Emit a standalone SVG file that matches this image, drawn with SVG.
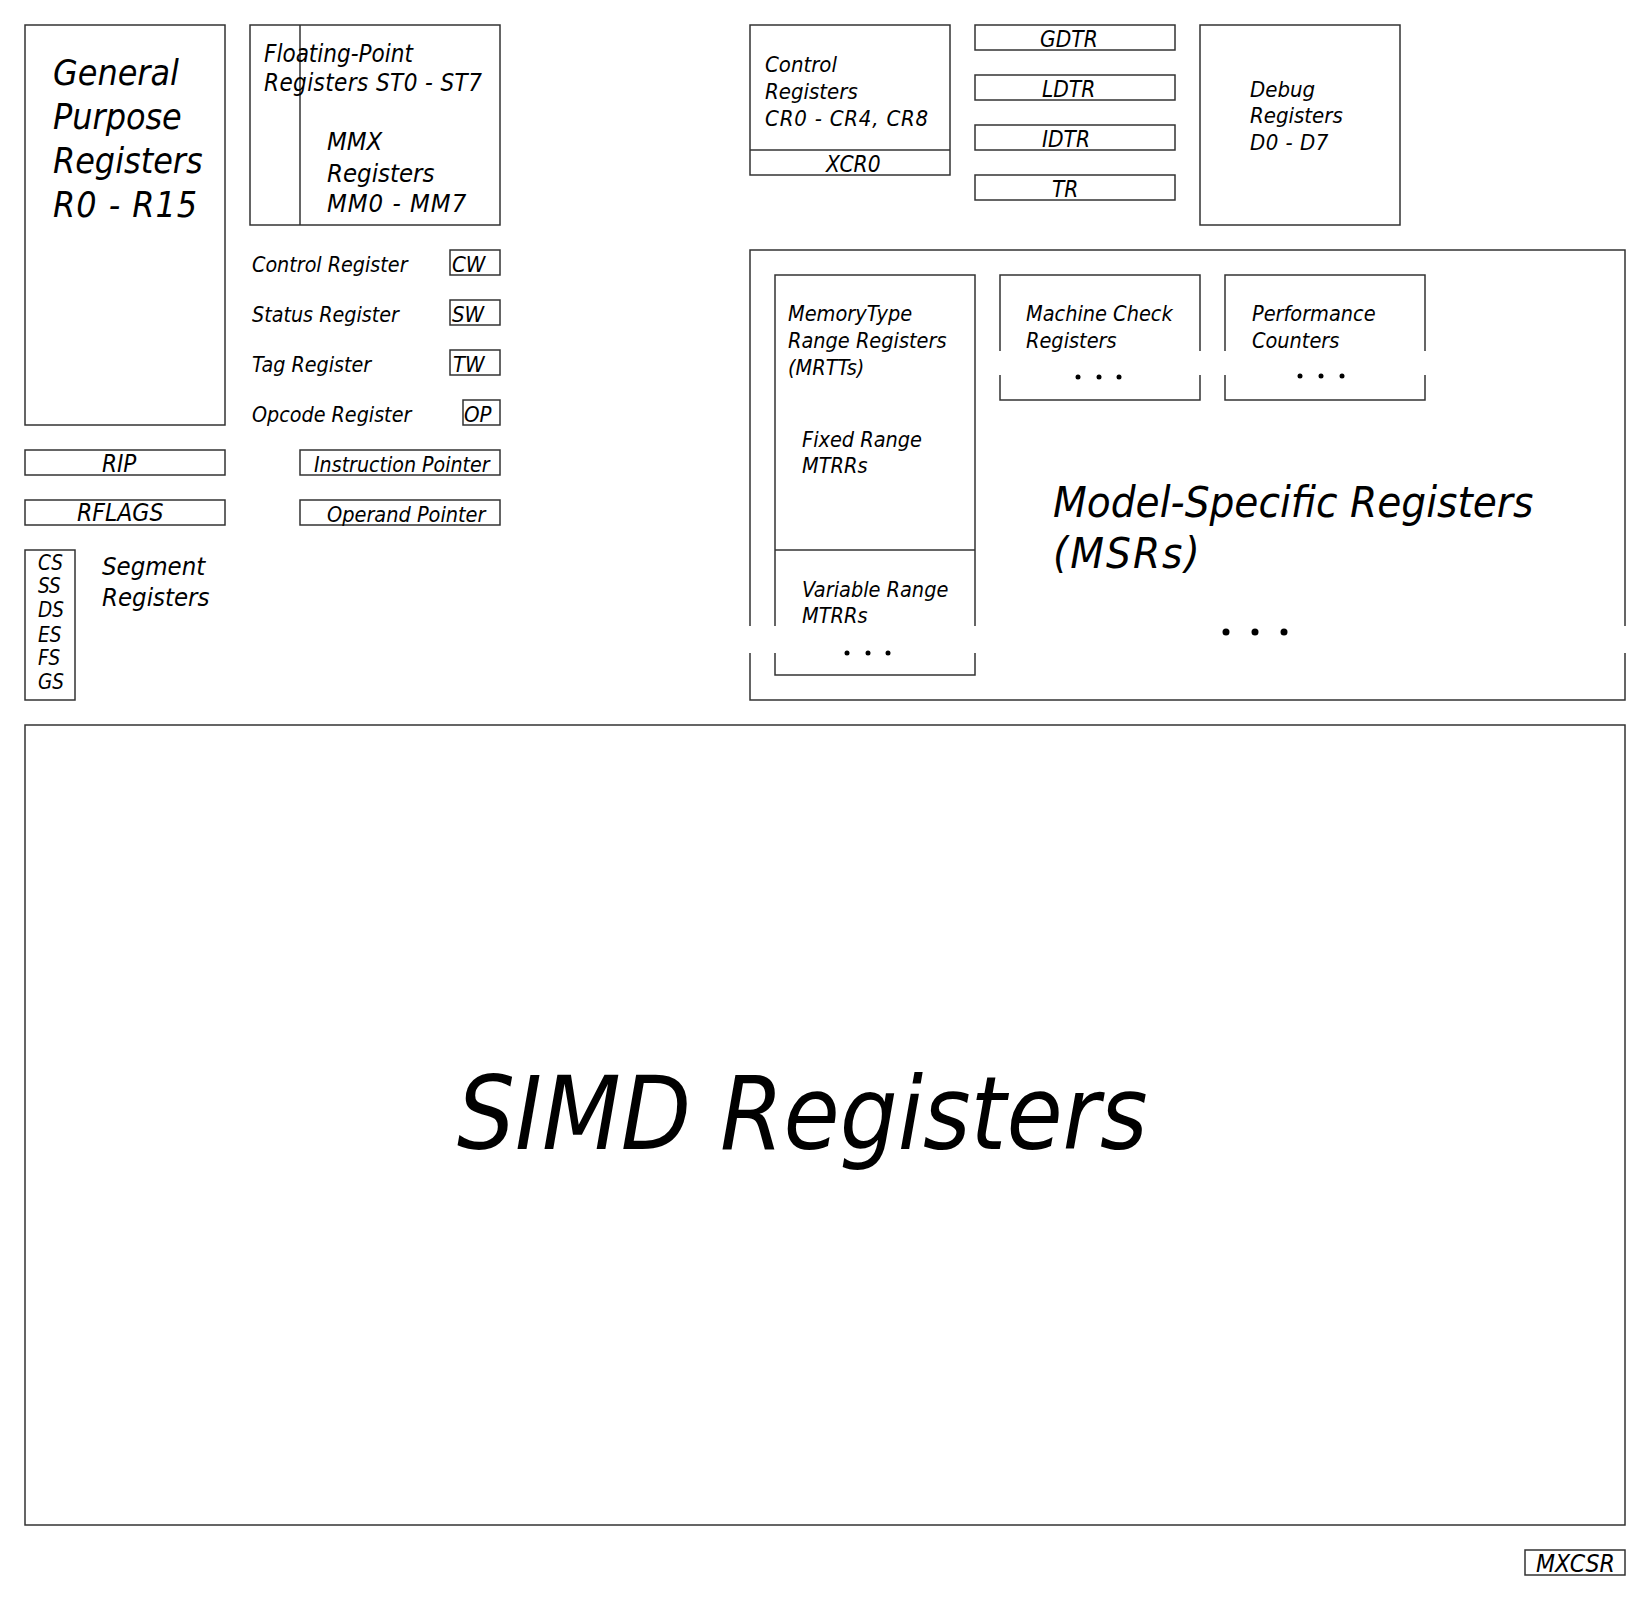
<svg xmlns="http://www.w3.org/2000/svg" width="1650" height="1601" viewBox="0 0 1650 1601">
<style>
  .b { fill: none; stroke: #333; stroke-width: 1.5; }
  text { font-family: "DejaVu Sans Condensed", "DejaVu Sans", sans-serif; font-stretch: condensed; font-style: italic; fill: #000; }
  .dot { fill: #000; }
</style>
<rect width="1650" height="1601" fill="#fff"/>

<g id="gpr">
  <rect class="b" x="25" y="25" width="200" height="400"/>
  <text font-size="35.5"><tspan x="53" y="85">General</tspan><tspan x="53" y="129">Purpose</tspan><tspan x="53" y="173">Registers</tspan><tspan x="53" y="217" letter-spacing="1">R0 - R15</tspan></text>
</g>

<g id="fpu">
  <rect class="b" x="250" y="25" width="250" height="200"/>
  <line class="b" x1="300" y1="25" x2="300" y2="225"/>
  <text font-size="24"><tspan x="264" y="62">Floating-Point</tspan><tspan x="264" y="91" letter-spacing="0.4">Registers ST0 - ST7</tspan></text>
  <text font-size="25.5"><tspan x="327" y="150">MMX</tspan><tspan x="327" y="182">Registers</tspan><tspan x="327" y="212" letter-spacing="1">MM0 - MM7</tspan></text>
</g>

<g id="fpu-control">
  <text x="252" y="272" font-size="21.3">Control Register</text>
  <rect class="b" x="450" y="250" width="50" height="25"/>
  <text x="452" y="272" font-size="22">CW</text>
</g>
<g id="fpu-status">
  <text x="252" y="322" font-size="21.3">Status Register</text>
  <rect class="b" x="450" y="300" width="50" height="25"/>
  <text x="452" y="322" font-size="22">SW</text>
</g>
<g id="fpu-tag">
  <text x="252" y="372" font-size="21.3">Tag Register</text>
  <rect class="b" x="450" y="350" width="50" height="25"/>
  <text x="453" y="372" font-size="22">TW</text>
</g>
<g id="fpu-opcode">
  <text x="252" y="422" font-size="21.3">Opcode Register</text>
  <rect class="b" x="463" y="400" width="37" height="25"/>
  <text x="464" y="422" font-size="22">OP</text>
</g>

<g id="rip">
  <rect class="b" x="25" y="450" width="200" height="25"/>
  <text x="102" y="472" font-size="24">RIP</text>
</g>
<g id="rflags">
  <rect class="b" x="25" y="500" width="200" height="25"/>
  <text x="77" y="521" font-size="24.5">RFLAGS</text>
</g>
<g id="instruction-pointer">
  <rect class="b" x="300" y="450" width="200" height="25"/>
  <text x="314" y="472" font-size="21.2">Instruction Pointer</text>
</g>
<g id="operand-pointer">
  <rect class="b" x="300" y="500" width="200" height="25"/>
  <text x="327" y="522" font-size="21.5">Operand Pointer</text>
</g>

<g id="segment">
  <rect class="b" x="25" y="550" width="50" height="150"/>
  <text font-size="20.5"><tspan x="38" y="570">CS</tspan><tspan x="38" y="593">SS</tspan><tspan x="38" y="617">DS</tspan><tspan x="38" y="642">ES</tspan><tspan x="38" y="665">FS</tspan><tspan x="38" y="689">GS</tspan></text>
  <text font-size="25.5"><tspan x="102" y="575">Segment</tspan><tspan x="102" y="606">Registers</tspan></text>
</g>

<g id="control-registers">
  <rect class="b" x="750" y="25" width="200" height="150"/>
  <line class="b" x1="750" y1="150" x2="950" y2="150"/>
  <text font-size="22"><tspan x="765" y="72">Control</tspan><tspan x="765" y="99">Registers</tspan><tspan x="765" y="126" letter-spacing="0.8">CR0 - CR4, CR8</tspan></text>
  <text x="826" y="172" font-size="22.5">XCR0</text>
</g>

<g id="gdtr">
  <rect class="b" x="975" y="25" width="200" height="25"/>
  <text x="1040" y="47" font-size="22.5">GDTR</text>
</g>
<g id="ldtr">
  <rect class="b" x="975" y="75" width="200" height="25"/>
  <text x="1042" y="97" font-size="22.5">LDTR</text>
</g>
<g id="idtr">
  <rect class="b" x="975" y="125" width="200" height="25"/>
  <text x="1042" y="147" font-size="22.5">IDTR</text>
</g>
<g id="tr">
  <rect class="b" x="975" y="175" width="200" height="25"/>
  <text x="1052" y="197" font-size="22.5">TR</text>
</g>

<g id="debug-registers">
  <rect class="b" x="1200" y="25" width="200" height="200"/>
  <text font-size="22"><tspan x="1250" y="97">Debug</tspan><tspan x="1250" y="123">Registers</tspan><tspan x="1250" y="150" letter-spacing="0.5">D0 - D7</tspan></text>
</g>

<g id="msr">
  <path class="b" d="M750,626 V250 H1625 V626 M750,653 V700 H1625 V653"/>
  <text font-size="43.5"><tspan x="1053" y="517">Model-Specific Registers</tspan><tspan x="1053" y="568" letter-spacing="2">(MSRs)</tspan></text>
  <circle class="dot" cx="1226" cy="632" r="3.5"/>
  <circle class="dot" cx="1255" cy="632" r="3.5"/>
  <circle class="dot" cx="1284" cy="632" r="3.5"/>
</g>

<g id="mtrr">
  <path class="b" d="M775,626 V275 H975 V626 M775,653 V675 H975 V653"/>
  <line class="b" x1="775" y1="550" x2="975" y2="550"/>
  <text font-size="21.5"><tspan x="788" y="321">MemoryType</tspan><tspan x="788" y="348">Range Registers</tspan><tspan x="788" y="375">(MRTTs)</tspan></text>
  <text font-size="21.5"><tspan x="802" y="447">Fixed Range</tspan><tspan x="802" y="473">MTRRs</tspan></text>
  <text font-size="21.5"><tspan x="802" y="597">Variable Range</tspan><tspan x="802" y="623">MTRRs</tspan></text>
  <circle class="dot" cx="847" cy="653" r="2.5"/>
  <circle class="dot" cx="868" cy="653" r="2.5"/>
  <circle class="dot" cx="888" cy="653" r="2.5"/>
</g>

<g id="machine-check">
  <path class="b" d="M1000,351 V275 H1200 V351 M1000,375 V400 H1200 V375"/>
  <text font-size="21.5"><tspan x="1026" y="321">Machine Check</tspan><tspan x="1026" y="348">Registers</tspan></text>
  <circle class="dot" cx="1078" cy="377" r="2.5"/>
  <circle class="dot" cx="1099" cy="377" r="2.5"/>
  <circle class="dot" cx="1119" cy="377" r="2.5"/>
</g>

<g id="performance-counters">
  <path class="b" d="M1225,351 V275 H1425 V351 M1225,375 V400 H1425 V375"/>
  <text font-size="21.5"><tspan x="1252" y="321">Performance</tspan><tspan x="1252" y="348">Counters</tspan></text>
  <circle class="dot" cx="1300" cy="376" r="2.5"/>
  <circle class="dot" cx="1321" cy="376" r="2.5"/>
  <circle class="dot" cx="1342" cy="376" r="2.5"/>
</g>

<g id="simd">
  <rect class="b" x="25" y="725" width="1600" height="800"/>
  <text x="457" y="1149" font-size="101.5">SIMD Registers</text>
</g>

<g id="mxcsr">
  <rect class="b" x="1525" y="1550" width="100" height="25"/>
  <text x="1536" y="1572" font-size="24.5">MXCSR</text>
</g>

<g id="connectors"></g>
</svg>
